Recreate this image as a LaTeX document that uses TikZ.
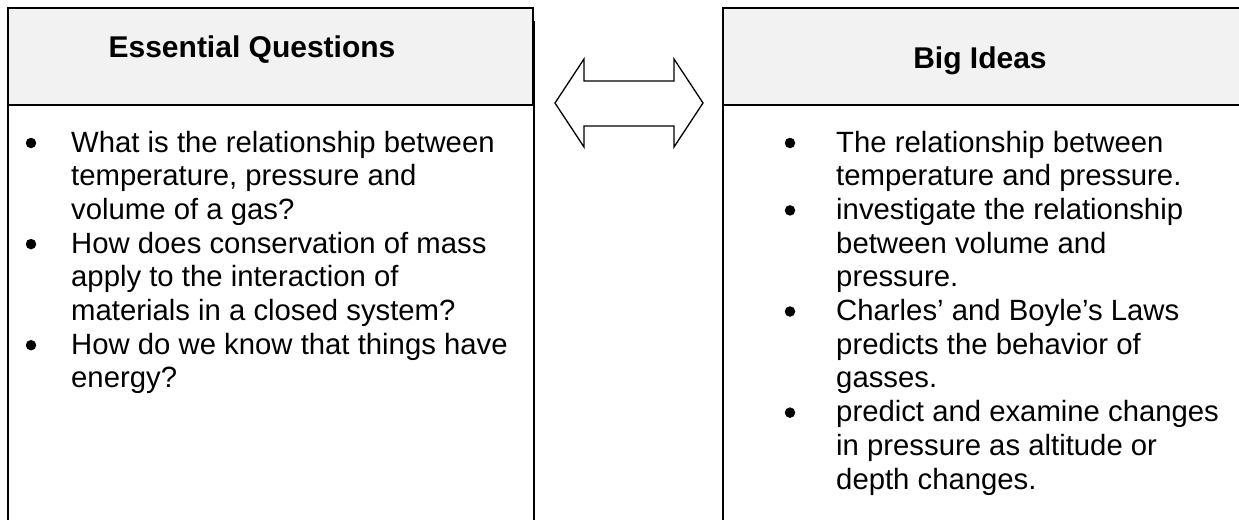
\documentclass[tikz,border=0pt]{standalone}
\usepackage{fontspec}
\setmainfont{Liberation Sans}
\begin{document}
\begin{tikzpicture}[x=1pt,y=-1pt,
  hdrfill/.style={fill={rgb,255:red,242;green,242;blue,242}},
  thinln/.style={line width=1.2pt},
  thickln/.style={line width=2.2pt},
  hdrtext/.style={font=\fontsize{30}{34}\selectfont\bfseries, inner sep=0pt, anchor=base},
  txt/.style={font=\fontsize{29.3}{33.7}\selectfont, inner sep=0pt, anchor=base west},
  bul/.style={circle, fill=black, inner sep=0pt, minimum size=10.5pt}]
\useasboundingbox (0,0) rectangle (1239,520);
% left box
\fill[hdrfill] (8,8) rectangle (533,105);
\draw[thinln] (8,105) -- (8,8) -- (533,8) -- (533,105);
\coordinate (lt) at (8,21);   \coordinate (lb) at (8,520);
\coordinate (rt) at (534,21); \coordinate (rb) at (534,520);
\coordinate (hl) at (8,105);  \coordinate (hr) at (534,105);
\draw[thickln] (lt) -- (lb);
\draw[thickln] (rt) -- (rb);
\draw[thickln] (hl) -- (hr);
% right box
\fill[hdrfill] (723,8) rectangle (1245,105);
\draw[thinln] (723,105) -- (723,8) -- (1245,8);
\coordinate (Lt) at (723,21); \coordinate (Lb) at (723,520);
\coordinate (Hl) at (723,105); \coordinate (Hr) at (1245,105);
\draw[thickln] (Lt) -- (Lb);
\draw[thickln] (Hl) -- (Hr);
% double arrow
\draw[line width=1.3pt, line join=miter] (555,103) -- (584,59) -- (584,81) -- (674,81) -- (674,59) -- (703,103) -- (674,147) -- (674,126) -- (584,126) -- (584,147) -- cycle;
% headers
\node[hdrtext] (eq) at (252,57) {Essential Questions};
\node[hdrtext] (bi) at (980,68) {Big Ideas};
% left items
\node[bul] (lb1) at (31,143) {};
\node[txt] (q1a) at (71,152) {What is the relationship between};
\node[txt] (q1b) at (71,185.7) {temperature, pressure and};
\node[txt] (q1c) at (71,219.4) {volume of a gas?};
\node[bul] (lb2) at (31,244.1) {};
\node[txt] (q2a) at (71,253.1) {How does conservation of mass};
\node[txt] (q2b) at (71,286.8) {apply to the interaction of};
\node[txt] (q2c) at (71,320.5) {materials in a closed system?};
\node[bul] (lb3) at (31,345.2) {};
\node[txt] (q3a) at (71,354.2) {How do we know that things have};
\node[txt] (q3b) at (71,387.9) {energy?};
% right items
\node[bul] (rb1) at (790,143) {};
\node[txt] (i1a) at (836,152) {The relationship between};
\node[txt] (i1b) at (836,185.7) {temperature and pressure.};
\node[bul] (rb2) at (790,210.4) {};
\node[txt] (i2a) at (836,219.4) {investigate the relationship};
\node[txt] (i2b) at (836,253.1) {between volume and};
\node[txt] (i2c) at (836,286.8) {pressure.};
\node[bul] (rb3) at (790,311.5) {};
\node[txt] (i3a) at (836,320.5) {Charles’ and Boyle’s Laws};
\node[txt] (i3b) at (836,354.2) {predicts the behavior of};
\node[txt] (i3c) at (836,387.9) {gasses.};
\node[bul] (rb4) at (790,412.6) {};
\node[txt] (i4a) at (836,421.6) {predict and examine changes};
\node[txt] (i4b) at (836,455.3) {in pressure as altitude or};
\node[txt] (i4c) at (836,489) {depth changes.};
\end{tikzpicture}
\end{document}
